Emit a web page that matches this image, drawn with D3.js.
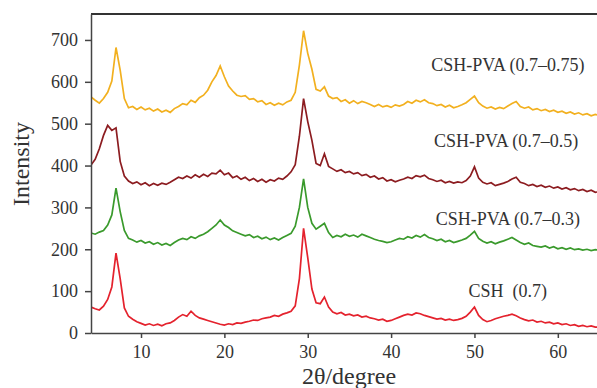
<!DOCTYPE html>
<html lang="en">
<head>
    <meta charset="UTF-8">
    <title>xrd patterns</title>
    <script src="https://cdn.jsdelivr.net/npm/d3@7"></script>
    <style>
        body{
            margin: 0;
            background: #ffffff;
        }
        text{
            font-family: "Liberation Serif", "Times New Roman", serif;
            fill: #333333;
        }
        .axis path, .axis line{
            stroke: #444444;
            stroke-width: 1.5;
        }
        .trace{
            fill: none;
            stroke-width: 1.7;
            stroke-linejoin: miter;
        }
    </style>
</head>
<body>

<svg width="597" height="388" id="main"></svg>

<script>
    // 2theta grid, degrees
    let angleStart = 4
    let angleStep = 0.5

    // intensities, one value per grid step (4.0 ... 65.0)
    let csh_pva_075 = [
        564, 556, 549, 560, 575, 602, 682, 628, 560, 538,
        541, 534, 540, 533, 537, 530, 535, 528, 532, 527,
        536, 541, 548, 545, 556, 551, 562, 568, 580, 600,
        615, 638, 612, 590, 578, 568, 565, 567, 558, 560,
        552, 555, 546, 550, 544, 549, 545, 552, 556, 575,
        640, 722, 668, 630, 582, 578, 588, 566, 560, 562,
        553, 557, 549, 555, 548, 553, 550, 546, 541, 546,
        540, 543, 539, 545, 542, 546, 553, 549, 556, 552,
        557, 550, 548, 543, 546, 540, 544, 538, 541, 545,
        550, 558, 566, 550, 542, 537, 540, 535, 539, 536,
        542, 548, 553, 541, 537, 540, 533, 536, 531, 534,
        529, 532, 527, 530, 525, 528, 523, 526, 521, 524,
        519, 522, 520]

    let csh_pva_05 = [
        401, 415, 440, 472, 496, 484, 490, 410, 375, 363,
        357, 361, 354, 359, 352, 357, 353, 358, 355, 360,
        366, 372, 369, 375, 370, 378, 372, 379, 374, 382,
        380, 389, 378, 382, 371, 375, 367, 372, 364, 369,
        362, 367, 360, 366, 363, 370, 367, 375, 385, 402,
        470, 560, 505, 460, 405, 400, 428, 398, 392, 386,
        390, 383, 386, 380, 383, 376, 379, 372, 375, 368,
        371, 363, 366, 361, 365, 368, 372, 369, 376, 373,
        377, 369, 366, 362, 365, 359, 362, 358, 361, 359,
        364, 375, 397, 370, 360, 356, 359, 352, 355, 358,
        362, 368, 372, 360, 357, 352, 355, 350, 353, 348,
        351, 346, 349, 344, 347, 342, 345, 340, 343, 338,
        341, 336, 338]

    let csh_pva_03 = [
        239, 236, 241, 245, 258, 282, 346, 290, 245, 226,
        222, 217, 221, 215, 218, 212, 216, 210, 214, 209,
        216, 222, 226, 223, 230, 226, 232, 236, 242, 250,
        258, 270, 258, 252, 244, 240, 236, 232, 235, 228,
        231, 225, 229, 223, 227, 222, 228, 233, 238, 255,
        300, 368, 300, 262, 248, 255, 262, 240, 228, 233,
        230, 236, 231, 234, 229, 236, 232, 228, 224, 221,
        219, 216, 218, 222, 226, 224, 230, 227, 233, 229,
        235, 228, 225, 221, 224, 218, 221, 216, 219, 222,
        226, 234, 243, 226, 219, 215, 218, 213, 217, 220,
        224, 228, 222, 216, 212, 215, 209, 207, 205, 208,
        203, 206, 201, 204, 200, 203, 199, 201, 198, 200,
        197, 199, 198]

    let csh_07 = [
        62, 58, 55, 64, 80, 110, 191, 130, 60, 40,
        33, 27, 23, 19, 22, 18, 21, 17, 22, 24,
        30, 38, 44, 40, 52, 42, 36, 33, 30, 27,
        24, 21, 19, 22, 20, 24, 23, 26, 28, 31,
        30, 34, 36, 38, 42, 40, 45, 48, 52, 65,
        130, 250, 180, 105, 72, 70, 86, 62, 50, 46,
        49, 43, 45, 41, 43, 38, 40, 36, 34, 31,
        33, 28, 30, 34, 38, 42, 45, 43, 48, 46,
        42, 39, 36, 33, 35, 31, 33, 30, 32, 35,
        40, 50, 62, 42, 32, 27, 30, 34, 37, 40,
        42, 45, 41, 36, 32, 29, 31, 26, 28, 24,
        26, 22, 24, 20, 22, 18, 20, 16, 18, 15,
        17, 14, 14]

    let seriesValues = [csh_pva_075, csh_pva_05, csh_pva_03, csh_07]
    let seriesNames = ["CSH-PVA (0.7\u20130.75)", "CSH-PVA (0.7\u20130.5)", "CSH-PVA (0.7\u20130.3)", "CSH  (0.7)"]
    let seriesColors = ["#f2b01f", "#8c1c20", "#3a9a2c", "#e4222d"]
    // where each label sits, in data units
    let labelAngle = [54, 53.8, 54, 54]
    let labelIntensity = [626, 444, 258, 86]

    let xTicks = [10, 20, 30, 40, 50, 60]
    let yTicks = [0, 100, 200, 300, 400, 500, 600, 700]

    let svg = d3.select("#main")

    let plotLeft = 91, plotRight = 597, plotTop = 14, plotBottom = 333

    let x = d3.scaleLinear().domain([4, 64.7]).range([plotLeft, plotRight])
    let y = d3.scaleLinear().domain([0, 762]).range([plotBottom, plotTop])

    svg.append("clipPath").attr("id", "plotArea")
        .append("rect")
        .attr("x", plotLeft)
        .attr("y", plotTop)
        .attr("width", plotRight - plotLeft + 5)
        .attr("height", plotBottom - plotTop)

    // traces
    let line = d3.line()
        .x((d, i) => x(angleStart + i * angleStep))
        .y(d => y(d))

    svg.append("g")
        .attr("clip-path", "url(#plotArea)")
        .selectAll("path")
        .data(seriesValues)
        .join("path")
        .attr("class", "trace")
        .attr("stroke", (d, i) => seriesColors[i])
        .attr("d", line)

    // frame top
    svg.append("line")
        .attr("x1", plotLeft)
        .attr("x2", plotRight + 2)
        .attr("y1", plotTop)
        .attr("y2", plotTop)
        .attr("stroke", "#333333")
        .attr("stroke-width", 2)

    // axes
    let xAxis = svg.append("g")
        .attr("class", "axis")
        .attr("transform", `translate(0,${plotBottom})`)
        .call(d3.axisBottom(x).tickValues(xTicks).tickSize(5).tickPadding(7).tickSizeOuter(0))
    xAxis.selectAll("text").style("font-size", "18px")

    let yAxis = svg.append("g")
        .attr("class", "axis")
        .attr("transform", `translate(${plotLeft},0)`)
        .call(d3.axisLeft(y).tickValues(yTicks).tickSize(6).tickPadding(7).tickSizeOuter(0))
    yAxis.selectAll("text").style("font-size", "18px")

    // series labels
    svg.append("g")
        .selectAll("text")
        .data(seriesNames)
        .join("text")
        .attr("x", (d, i) => x(labelAngle[i]))
        .attr("y", (d, i) => y(labelIntensity[i]))
        .attr("text-anchor", "middle")
        .style("font-size", "18px")
        .style("white-space", "pre")
        .text(d => d)

    // axis titles
    svg.append("text")
        .attr("x", 349)
        .attr("y", 384)
        .attr("text-anchor", "middle")
        .style("font-size", "24px")
        .text("2\u03b8/degree")

    svg.append("text")
        .attr("transform", "translate(29,164) rotate(-90)")
        .attr("text-anchor", "middle")
        .style("font-size", "24px")
        .text("Intensity")
</script>

</body>
</html>
